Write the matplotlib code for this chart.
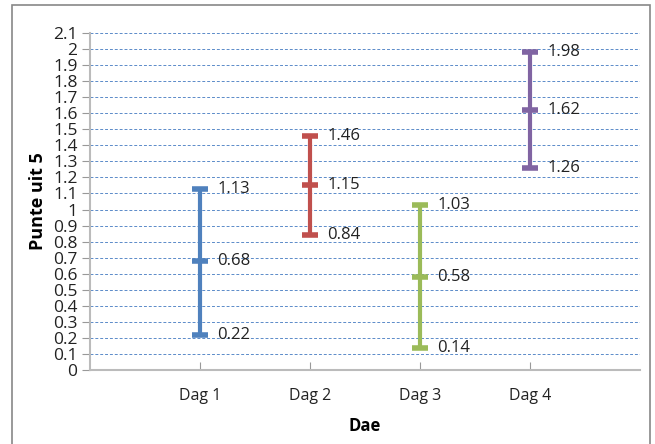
import matplotlib.pyplot as plt
import matplotlib.patches as patches

plt.rcParams['font.family'] = ['Open Sans', 'DejaVu Sans']

dae = ['Dag 1', 'Dag 2', 'Dag 3', 'Dag 4']
hoog = [1.13, 1.46, 1.03, 1.98]
gem = [0.68, 1.15, 0.58, 1.62]
laag = [0.22, 0.84, 0.14, 1.26]
kleure = ['#4F81BD', '#C0504D', '#9BBB59', '#8064A2']

fig = plt.figure(figsize=(6.55, 4.44), dpi=100)
ax = fig.add_axes([90/655, 1 - 370/444, 550/655, 337/444])

# buitenste raam
fig.patches.append(patches.Rectangle((12/655, -0.05), 638/655, 1 - 5/444 + 0.05,
                                     transform=fig.transFigure, fill=False,
                                     edgecolor='#888888', lw=1.2))

for i in range(len(dae)):
    x = i + 1
    c = kleure[i]
    ax.plot([x, x], [laag[i], hoog[i]], color=c, lw=3, solid_capstyle='butt')
    for v in (laag[i], gem[i], hoog[i]):
        ax.plot([x - 0.07, x + 0.07], [v, v], color=c, lw=4, solid_capstyle='butt')
        ax.text(x + 0.16, v, '%.2f' % v, fontsize=12, va='center', ha='left', color='#222222')

ax.set_xlim(0, 5)
ax.set_ylim(0, 2.1)
ax.set_yticks([i / 10 for i in range(22)])
ax.set_yticklabels(['0' if i == 0 else ('%g' % (i / 10)) for i in range(22)])
ax.set_xticks([1, 2, 3, 4])
ax.set_xticklabels(dae)
ax.grid(axis='y', color='#5B8BC9', linestyle=(0, (3, 2)), lw=0.7)
ax.set_axisbelow(True)
for s in ['top', 'right']:
    ax.spines[s].set_visible(False)
ax.spines['left'].set_color('#BBBBBB')
ax.spines['bottom'].set_color('#BBBBBB')
ax.spines['left'].set_linewidth(1.5)
ax.spines['bottom'].set_linewidth(1.5)
ax.tick_params(axis='y', length=6, color='#999999', labelsize=12.5, pad=3, labelcolor='#222222')
ax.tick_params(axis='x', length=6, color='#999999', labelsize=11.5, pad=13, labelcolor='#222222', direction='in')

ax.set_ylabel('Punte uit 5', fontsize=13, fontweight='bold', labelpad=4)
ax.set_xlabel('Dae', fontsize=12, fontweight='bold', labelpad=9)

fig.savefig('out.png', dpi=100)
